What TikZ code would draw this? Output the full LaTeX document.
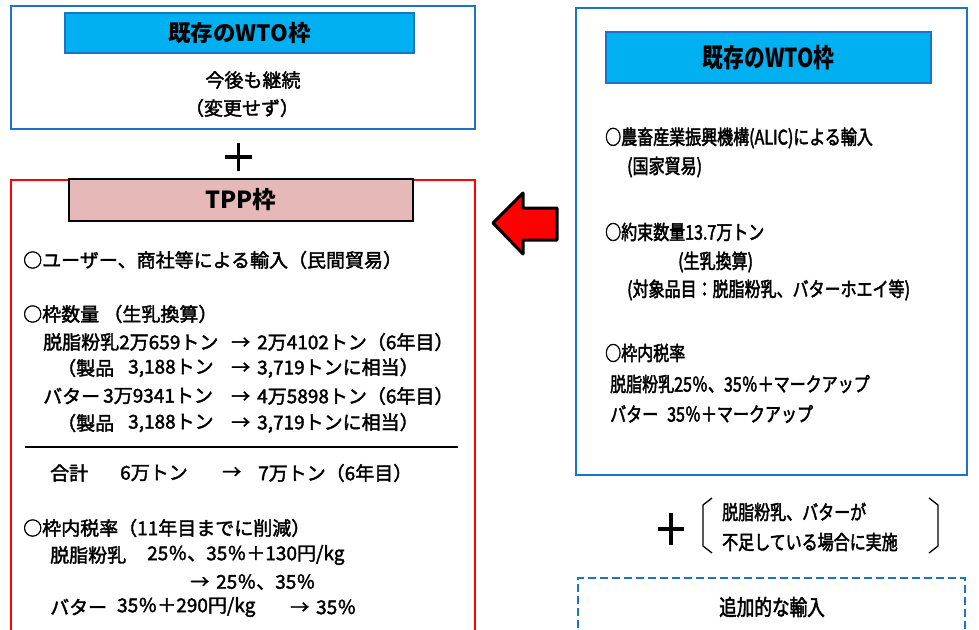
\documentclass[tikz,border=0pt]{standalone}
\usepackage{fontspec}
\setmainfont{Noto Sans CJK JP}
\newfontfamily\bodyf[FakeBold=2]{Noto Sans CJK JP}
\newfontfamily\cond[FakeStretch=0.8,FakeBold=2.2]{Noto Sans CJK JP}
\newfontfamily\condhdr[FakeStretch=0.8]{Noto Sans CJK JP}
\definecolor{frameblue}{RGB}{28,117,196}
\definecolor{hdrblue}{RGB}{0,176,240}
\definecolor{tpppink}{RGB}{230,185,184}
\definecolor{redline}{RGB}{255,0,0}
\begin{document}
\begin{tikzpicture}[x=1pt,y=-1pt,
  txt/.style={anchor=west,inner sep=0pt,font=\bodyf\fontsize{19}{22}\selectfont},
  ctxt/.style={anchor=center,inner sep=0pt,font=\bodyf\fontsize{19}{22}\selectfont},
  rtxt/.style={anchor=west,inner sep=0pt,font=\cond\fontsize{20}{24}\selectfont},
  bluehdr/.style={draw=frameblue,fill=hdrblue,line width=2pt,inner sep=0pt},
  bluebox/.style={draw=frameblue,line width=2.2pt},
  plusline/.style={line width=3.6pt},
  bracket/.style={line width=1.3pt,line join=miter}]
\useasboundingbox (0,0) rectangle (979,629);

% ---------- left top WTO box ----------
\draw[bluebox] (11,6) rectangle (475,129);
\node[bluehdr,minimum width=349pt,minimum height=40pt,font=\bfseries\fontsize{22.5}{25}\selectfont] (hdrA) at (239.5,33) {既存のWTO枠};
\node[ctxt] (a1) at (253,80) {今後も継続};
\node[ctxt] (a2) at (242,108) {（変更せず）};

% plus
\draw[plusline] (225,157) -- (252,157);
\draw[plusline] (238.5,143) -- (238.5,171);

% ---------- TPP box ----------
\draw[draw=redline,line width=2.2pt] (11,640) -- (11,180) -- (475,180) -- (475,640);
\node[draw=black,fill=tpppink,line width=2.6pt,inner sep=0pt,minimum width=344pt,minimum height=42pt,font=\bfseries\fontsize{23.5}{26}\selectfont] (hdrT) at (241,200) {TPP枠};

\node[txt] (b1) at (23,260) {○ユーザー、商社等による輸入（民間貿易）};
\node[txt] (b2) at (23,314) {○枠数量 （生乳換算）};

\node[txt] (c1L) at (43,342) {脱脂粉乳2万659トン};
\node[txt] (c1R) at (231,342) {→\hspace{7pt}2万4102トン（6年目）};
\node[txt] (c2L) at (57,368) {（製品};
\node[txt] (c2N) at (128,368) {3,188トン};
\node[txt] (c2R) at (231,368) {→\hspace{7pt}3,719トンに相当）};
\node[txt] (c3L) at (43,396) {バター};
\node[txt] (c3N) at (103,396) {3万9341トン};
\node[txt] (c3R) at (231,396) {→\hspace{7pt}4万5898トン（6年目）};
\node[txt] (c4L) at (57,423) {（製品};
\node[txt] (c4N) at (128,423) {3,188トン};
\node[txt] (c4R) at (231,423) {→\hspace{7pt}3,719トンに相当）};

\draw[line width=2pt] (25,447) -- (458,447);

\node[txt] (d1) at (50,473) {合計};
\node[txt] (d2) at (120,473) {6万トン};
\node[txt] (d3) at (222,473) {→};
\node[txt] (d4) at (258,473) {7万トン（6年目）};

\node[txt] (e1) at (23,528) {○枠内税率（11年目までに削減）};
\node[txt] (e2) at (50,555) {脱脂粉乳};
\node[txt] (e3) at (147,555) {25％、35％＋130円/kg};
\node[txt] (e4) at (190,582) {→\hspace{7pt}25％、35％};
\node[txt] (e5) at (50,607) {バター};
\node[txt] (e6) at (117,607) {35％＋290円/kg};
\node[txt] (e7) at (290,607) {→\hspace{7pt}35％};

% ---------- red arrow ----------
\draw[fill=redline,draw=black,line width=3pt,line join=round]
  (493,223) -- (523,193) -- (523,208) -- (557,208) -- (557,240) -- (523,240) -- (523,254) -- cycle;

% ---------- right WTO box ----------
\draw[bluebox,line width=2.6pt] (576,8) rectangle (967,475);
\node[bluehdr,minimum width=325pt,minimum height=51pt,font=\condhdr\bfseries\fontsize{26}{29}\selectfont] (hdrB) at (768.5,57.5) {既存のWTO枠};

\node[rtxt] (f1) at (605,138) {○農畜産業振興機構(ALIC)による輸入};
\node[rtxt] (f2) at (627,167) {(国家貿易)};
\node[rtxt] (f3) at (605,232) {○約束数量13.7万トン};
\node[rtxt] (f4) at (678,262) {(生乳換算)};
\node[rtxt] (f5) at (627,290) {(対象品目：脱脂粉乳、バターホエイ等)};
\node[rtxt] (f6) at (605,353) {○枠内税率};
\node[rtxt] (f7) at (610,384) {脱脂粉乳25％、35％＋マークアップ};
\node[rtxt] (f8) at (610,414) {バター};
\node[rtxt] (f9) at (667,414) {35％＋マークアップ};

% plus and bracket note
\draw[plusline,line width=4pt] (658,529) -- (684,529);
\draw[plusline,line width=4pt] (671,513) -- (671,545);
\draw[bracket] (712,498) -- (703,505) -- (703,546) -- (712,553);
\draw[bracket] (929,498) -- (938,505) -- (938,546) -- (929,553);
\node[rtxt] (g1) at (722,512) {脱脂粉乳、バターが};
\node[rtxt] (g2) at (722,542) {不足している場合に実施};

% dashed additional import box
\draw[draw=frameblue,line width=2.6pt,dash pattern=on 8pt off 4pt] (578,640) -- (578,578) -- (965,578) -- (965,640);
\node[anchor=center,inner sep=0pt,font=\cond\fontsize{22}{26}\selectfont] (h1) at (772,607) {追加的な輸入};
\end{tikzpicture}
\end{document}
